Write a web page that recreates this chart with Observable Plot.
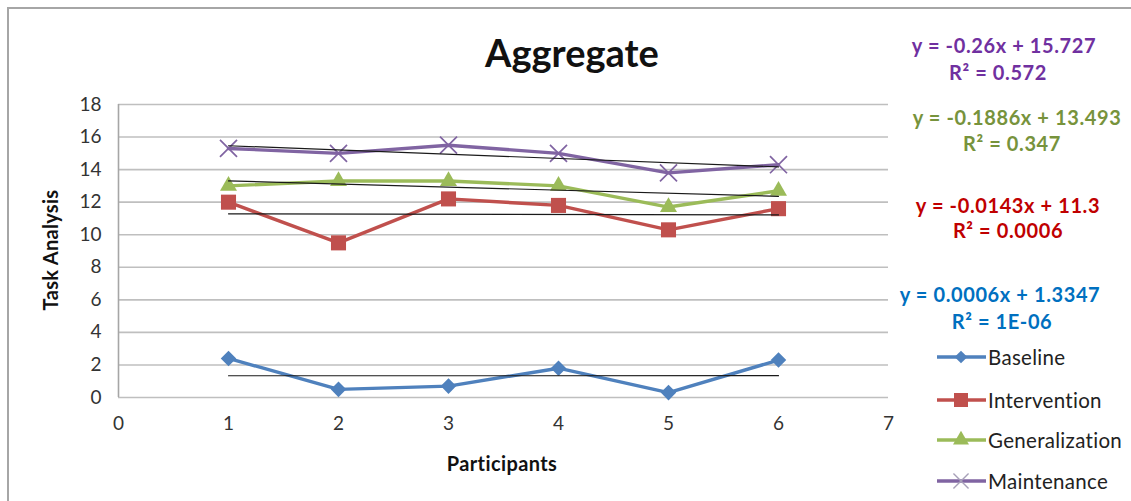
<!DOCTYPE html>
<html>
<head>
<meta charset="utf-8">
<script src="https://cdn.jsdelivr.net/npm/d3@7"></script>
<script src="https://cdn.jsdelivr.net/npm/@observablehq/plot@0.6"></script>
<style>
  html, body { margin: 0; padding: 0; background: #fff; }
  #chart { position: relative; width: 1131px; height: 501px; overflow: hidden; font-family: Lato, "Open Sans", sans-serif; }
  #frame { position: absolute; left: 7px; top: 7px; width: 1140px; height: 510px; border: 2px solid #a6a6a6; box-sizing: border-box; }
  .abs { position: absolute; white-space: nowrap; }
  #title { left: 572px; top: 52px; transform: translate(-50%, -50%); font-size: 38px; font-weight: 700; color: #111; }
  #ytitle { left: 50px; top: 250px; transform: translate(-50%, -50%) rotate(-90deg); font-size: 20px; font-weight: 700; color: #111; letter-spacing: 0.3px; }
  #xtitle { left: 502px; top: 463px; transform: translate(-50%, -50%); font-size: 20px; font-weight: 700; color: #111; letter-spacing: 0.4px; }
  .eq { transform: translate(-50%, -50%); font-size: 20px; font-weight: 700; letter-spacing: 0.6px; }
  .leg { display: flex; align-items: center; font-size: 20.5px; color: #222; transform: translateY(-50%); letter-spacing: 0.3px; }
  .leg svg { margin-right: 1px; }
</style>
</head>
<body>
<div id="chart"><div id="frame"></div></div>
<script>
// Task analysis scores per participant, one array per phase
const participants = [1, 2, 3, 4, 5, 6];
const baseline       = [2.4, 0.5, 0.7, 1.8, 0.3, 2.3];
const intervention   = [12.0, 9.5, 12.2, 11.8, 10.3, 11.6];
const generalization = [13.0, 13.3, 13.3, 13.0, 11.7, 12.7];
const maintenance    = [15.3, 15.0, 15.5, 15.0, 13.8, 14.3];

const seriesNames  = ["Baseline", "Intervention", "Generalization", "Maintenance"];
const seriesColors = ["#4f81bd", "#c0504d", "#9bbb59", "#8064a2"];
const seriesSymbols = ["diamond", "square", "triangle", "times"];

// Linear trendlines (slope, intercept) and their printed equations
const trendSlopes     = [0.0006, -0.0143, -0.1886, -0.26];
const trendIntercepts = [1.3347, 11.3, 13.493, 15.727];
const trendEquations  = ["y = 0.0006x + 1.3347", "y = -0.0143x + 11.3", "y = -0.1886x + 13.493", "y = -0.26x + 15.727"];
const trendR2         = ["R\u00b2 = 1E-06", "R\u00b2 = 0.0006", "R\u00b2 = 0.347", "R\u00b2 = 0.572"];
const equationColors  = ["#0070c0", "#c00000", "#77933c", "#7030a0"];

const xTicks = [0, 1, 2, 3, 4, 5, 6, 7];
const yTicks = [0, 2, 4, 6, 8, 10, 12, 14, 16, 18];

const seriesValues = [baseline, intervention, generalization, maintenance];
const rows = seriesNames.flatMap((name, i) =>
  participants.map((p, j) => ({series: name, x: p, y: seriesValues[i][j]})));
const trendRows = seriesNames.flatMap((name, i) =>
  [participants[0], participants[participants.length - 1]].map(x =>
    ({series: name, x, y: trendSlopes[i] * x + trendIntercepts[i]})));

const colorOf = Object.fromEntries(seriesNames.map((n, i) => [n, seriesColors[i]]));

const markerMarks = seriesNames.map((name, i) => {
  const data = rows.filter(d => d.series === name);
  const sym = seriesSymbols[i];
  if (sym === "diamond") return Plot.dot(data, {x: "x", y: "y", symbol: "square", r: 6.2, rotate: 45, fill: seriesColors[i]});
  if (sym === "square") return Plot.dot(data, {x: "x", y: "y", symbol: "square", r: 8.5, fill: seriesColors[i]});
  if (sym === "triangle") return Plot.dot(data, {x: "x", y: "y", symbol: "triangle", r: 6.3, fill: seriesColors[i]});
  return Plot.dot(data, {x: "x", y: "y", symbol: "times", r: 7.8, stroke: seriesColors[i], strokeWidth: 1.7, fill: "none"});
});

const plot = Plot.plot({
  width: 1131,
  height: 501,
  marginLeft: 118,
  marginRight: 243,
  marginTop: 104,
  marginBottom: 104,
  style: {fontFamily: "Lato, 'Open Sans', sans-serif", fontSize: "19px", color: "#333", background: "transparent"},
  x: {domain: [0, 7], ticks: xTicks, tickSize: 0, tickPadding: 19, label: null, tickFormat: d => d},
  y: {domain: [0, 18], ticks: yTicks, tickSize: 0, tickPadding: 17, label: null, tickFormat: d => d},
  marks: [
    Plot.ruleY(yTicks, {stroke: "#bfbfbf", strokeWidth: 1.6}),
    Plot.ruleX([0], {stroke: "#a6a6a6", strokeWidth: 1.6}),
    Plot.line(rows, {x: "x", y: "y", z: "series", stroke: d => colorOf[d.series], strokeWidth: 3.4}),
    ...markerMarks,
    Plot.line(trendRows, {x: "x", y: "y", z: "series", stroke: "#1a1a1a", strokeWidth: 1.2})
  ]
});
plot.style.position = "absolute";
plot.style.left = "0px";
plot.style.top = "0px";

const chart = document.getElementById("chart");
chart.appendChild(plot);

function addDiv(id, cls, text, css) {
  const el = document.createElement("div");
  if (id) el.id = id;
  el.className = cls;
  el.textContent = text;
  Object.assign(el.style, css || {});
  chart.appendChild(el);
  return el;
}

addDiv("title", "abs", "Aggregate");
addDiv("ytitle", "abs", "Task Analysis");
addDiv("xtitle", "abs", "Participants");

// Trendline equations, listed top to bottom as Maintenance, Generalization, Intervention, Baseline
const eqPos = [
  {l1: [1000, 294], l2: [1002, 321]},
  {l1: [1008, 205], l2: [1008, 230]},
  {l1: [1017, 117], l2: [1012, 143]},
  {l1: [1004, 45],  l2: [998, 72]}
];
trendEquations.forEach((eq, i) => {
  addDiv(null, "abs eq", eq, {left: eqPos[i].l1[0] + "px", top: eqPos[i].l1[1] + "px", color: equationColors[i]});
  addDiv(null, "abs eq", trendR2[i], {left: eqPos[i].l2[0] + "px", top: eqPos[i].l2[1] + "px", color: equationColors[i]});
});

// Legend
const legendTops = [357, 400, 440, 481];
seriesNames.forEach((name, i) => {
  const row = document.createElement("div");
  row.className = "abs leg";
  row.style.left = "937px";
  row.style.top = legendTops[i] + "px";
  const svg = d3.create("svg").attr("width", 50).attr("height", 20);
  svg.append("line").attr("x1", 0).attr("x2", 49).attr("y1", 10).attr("y2", 10)
    .attr("stroke", seriesColors[i]).attr("stroke-width", 3.4);
  const sym = seriesSymbols[i];
  const g = svg.append("g").attr("transform", "translate(24,10)");
  if (sym === "diamond") g.append("rect").attr("x", -4.5).attr("y", -4.5).attr("width", 9).attr("height", 9).attr("transform", "rotate(45)").attr("fill", seriesColors[i]);
  else if (sym === "square") g.append("rect").attr("x", -7).attr("y", -7).attr("width", 14).attr("height", 14).attr("fill", seriesColors[i]);
  else if (sym === "triangle") g.append("path").attr("d", d3.symbol(d3.symbolTriangle, 110)()).attr("fill", seriesColors[i]);
  else g.append("path").attr("d", d3.symbol(d3.symbolTimes, 150)()).attr("stroke", "#a7a0b8").attr("stroke-width", 1.4).attr("fill", "none");
  row.appendChild(svg.node());
  const label = document.createElement("span");
  label.textContent = name;
  row.appendChild(label);
  chart.appendChild(row);
});
</script>
</body>
</html>
